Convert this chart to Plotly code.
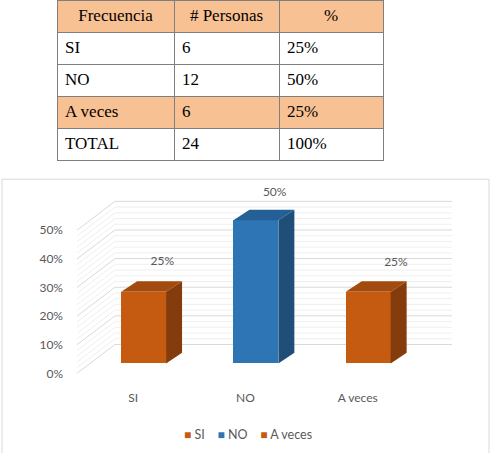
import numpy as np
import plotly.graph_objects as go

# ---------------- data ----------------
categories = ["SI", "NO", "A veces"]
personas = [6, 12, 6]
porcentajes = [0.25, 0.50, 0.25]
total_label = "TOTAL"
total_personas = 24
total_pct = "100%"
table_header = ["Frecuencia", "# Personas", "%"]
y_ticks = [0, 0.1, 0.2, 0.3, 0.4, 0.5]
y_tick_text = ["0%", "10%", "20%", "30%", "40%", "50%"]

# ---------------- styles ----------------
W, H = 490, 453
front_cols = ["#C55A11", "#2E75B6", "#C55A11"]
top_cols = ["#A34A0E", "#245F96", "#A34A0E"]
side_cols = ["#843C0C", "#1F4E79", "#843C0C"]
peach = "#F8C193"
txt_grey = "#595959"
FONT = "Lato"

# pixel geometry of front plane
PX_CAT = 112.3      # px per category
PX_VAL = 287.5      # px per 1.0 (100 %)
X0_PX = 77          # front-plane x of -0.5
Y0_PX = 375         # front-plane y of 0
DOM_L, DOM_R, DOM_T, DOM_B = 70, 470, 185, 380

# 3D projection offsets (axis units)
DXW, DYW = 38 / PX_CAT, 29 / PX_VAL          # full depth of the wall
DXF, DYF = 0.093, 10 / PX_VAL                # bar front-face offset
DXB, DYB = 16 / PX_CAT, 10.6 / PX_VAL        # bar depth
BAR_W = 0.40

fig = go.Figure()

# ---- gridlines (back wall + side wall) as shapes below the bars ----
def grid_path(vals):
    parts = []
    for v in vals:
        parts.append(f"M{-0.5},{v} L{-0.5 + DXW},{v + DYW} L{2.5 + DXW},{v + DYW}")
    return " ".join(parts)

minor_vals = [float(v) for v in np.round(np.arange(0, 0.5001, 0.02), 4) if round(v * 50) % 5 != 0]
shapes = [
    dict(type="path", xref="x", yref="y", path=grid_path(minor_vals),
         line=dict(color="#EFEFEF", width=1), layer="below"),
    dict(type="path", xref="x", yref="y", path=grid_path(y_ticks),
         line=dict(color="#D9D9D9", width=1), layer="below"),
    dict(type="rect", xref="paper", yref="paper",
         x0=2 / W, x1=489 / W, y0=1 - 458 / H, y1=1 - 180 / H,
         line=dict(color="#D9D9D9", width=1), fillcolor="rgba(0,0,0,0)", layer="below"),
]

# ---- bars ----
for i, (c, v) in enumerate(zip(categories, porcentajes)):
    xc = i + DXF
    x0, x1 = xc - BAR_W / 2, xc + BAR_W / 2
    fig.add_trace(go.Bar(x=[xc], y=[v], base=[DYF], width=[BAR_W],
                         marker=dict(color=front_cols[i], line=dict(width=0)),
                         showlegend=False, hoverinfo="skip"))
    # side face
    fig.add_trace(go.Scatter(x=[x1, x1, x1 + DXB, x1 + DXB, x1],
                             y=[DYF, DYF + v, DYF + v + DYB, DYF + DYB, DYF],
                             fill="toself", fillcolor=side_cols[i], mode="lines",
                             line=dict(width=0, color=side_cols[i]),
                             showlegend=False, hoverinfo="skip"))
    # top face
    fig.add_trace(go.Scatter(x=[x0, x1, x1 + DXB, x0 + DXB, x0],
                             y=[DYF + v, DYF + v, DYF + v + DYB, DYF + v + DYB, DYF + v],
                             fill="toself", fillcolor=top_cols[i], mode="lines",
                             line=dict(width=0, color=top_cols[i]),
                             showlegend=False, hoverinfo="skip"))

# ---- data labels ----
lab_dx = [0.26, 0.26, 0.34]
lab_dy = [0.14, 0.13, 0.135]
fig.add_trace(go.Scatter(x=[i + lab_dx[i] for i in range(len(categories))],
                         y=[v + lab_dy[i] for i, v in enumerate(porcentajes)],
                         text=[f"{round(v*100)}%" for v in porcentajes],
                         mode="text", textfont=dict(family=FONT, size=12, color=txt_grey),
                         cliponaxis=False, showlegend=False, hoverinfo="skip"))

# ---- legend (text with coloured squares) ----
legend_txt = "&nbsp;&nbsp;&nbsp;&nbsp;".join(
    f"<span style='color:{front_cols[i]};font-size:12px'>■</span> {c}"
    for i, c in enumerate(categories))
annotations = [dict(xref="paper", yref="paper", x=248 / W, y=1 - 436 / H,
                    xanchor="center", yanchor="middle", showarrow=False,
                    text=legend_txt, font=dict(family=FONT, size=12.5, color=txt_grey))]

# ---- table ----
pct_txt = [f"{round(v*100)}%" for v in porcentajes] + [total_pct]
fills = ["white", "white", peach, "white"]
fig.add_trace(go.Table(
    domain=dict(x=[57 / W, 383 / W], y=[1 - 166 / H, 1]),
    columnwidth=[117, 105, 104],
    header=dict(values=table_header, fill_color=peach, align="center",
                line=dict(color="#7F7F7F", width=1), height=32,
                font=dict(family="Liberation Serif", size=17, color="black")),
    cells=dict(values=[categories + [total_label],
                       [str(p) for p in personas] + [str(total_personas)],
                       pct_txt],
               fill_color=[fills, fills, fills], align="left",
               line=dict(color="#7F7F7F", width=1), height=32,
               font=dict(family="Liberation Serif", size=17, color="black")),
))

fig.update_layout(
    width=W, height=H, margin=dict(l=0, r=0, t=0, b=0),
    paper_bgcolor="white", plot_bgcolor="rgba(0,0,0,0)",
    barmode="overlay", bargap=0, showlegend=False,
    font=dict(family=FONT, size=12, color=txt_grey),
    xaxis=dict(domain=[DOM_L / W, DOM_R / W],
               range=[-0.5 - (X0_PX - DOM_L) / PX_CAT, -0.5 + (DOM_R - X0_PX) / PX_CAT],
               tickvals=list(range(len(categories))), ticktext=categories,
               showgrid=False, zeroline=False, showline=False, ticks="",
               ticklabelstandoff=11,
               tickfont=dict(family=FONT, size=12, color=txt_grey), fixedrange=True),
    yaxis=dict(domain=[1 - DOM_B / H, 1 - DOM_T / H],
               range=[-(DOM_B - Y0_PX) / PX_VAL, (Y0_PX - DOM_T) / PX_VAL],
               tickvals=y_ticks, ticktext=y_tick_text,
               showgrid=False, zeroline=False, showline=False, ticks="",
               ticklabelstandoff=6,
               tickfont=dict(family=FONT, size=12, color=txt_grey), fixedrange=True),
    shapes=shapes,
    annotations=annotations,
)

fig.write_html("out.html")
